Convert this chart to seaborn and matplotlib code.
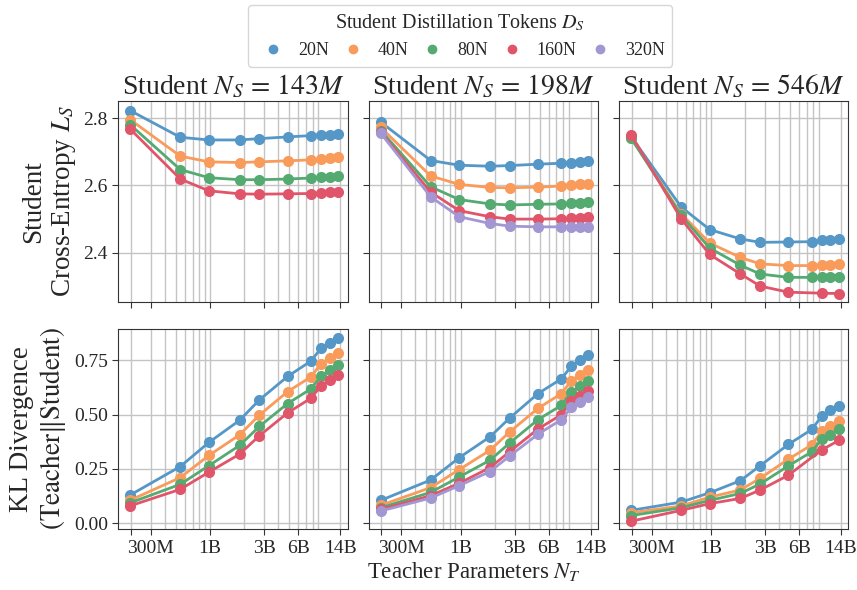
import numpy as np
import pandas as pd
import matplotlib.pyplot as plt
import seaborn as sns
from matplotlib.lines import Line2D
from matplotlib.ticker import FixedLocator, FixedFormatter, LogLocator, NullFormatter

# teacher sizes (x axis) and the series labels
teacher_params = [0.198e9, 0.546e9, 0.975e9, 1.82e9, 2.72e9, 4.82e9, 7.75e9, 9.5e9, 11.3e9, 13.4e9]
students = ["143M", "198M", "546M"]
tokens = ["20N", "40N", "80N", "160N", "320N"]
colors = ["#5597c6", "#f99b5b", "#55aa71", "#e05569", "#a397d3"]

# student cross-entropy, one dict per student size
ce_143 = {
    "20N":  [2.822, 2.743, 2.735, 2.735, 2.739, 2.744, 2.748, 2.750, 2.751, 2.753],
    "40N":  [2.795, 2.687, 2.670, 2.668, 2.670, 2.673, 2.676, 2.679, 2.681, 2.683],
    "80N":  [2.780, 2.647, 2.623, 2.617, 2.617, 2.619, 2.622, 2.625, 2.626, 2.628],
    "160N": [2.767, 2.619, 2.584, 2.575, 2.574, 2.575, 2.576, 2.578, 2.580, 2.580],
}
ce_198 = {
    "20N":  [2.788, 2.674, 2.660, 2.657, 2.659, 2.663, 2.666, 2.668, 2.670, 2.672],
    "40N":  [2.772, 2.628, 2.603, 2.594, 2.593, 2.595, 2.598, 2.601, 2.603, 2.605],
    "80N":  [2.763, 2.596, 2.558, 2.545, 2.542, 2.544, 2.545, 2.547, 2.549, 2.550],
    "160N": [2.758, 2.580, 2.525, 2.507, 2.500, 2.500, 2.501, 2.503, 2.504, 2.506],
    "320N": [2.755, 2.566, 2.507, 2.487, 2.479, 2.477, 2.477, 2.477, 2.477, 2.477],
}
ce_546 = {
    "20N":  [2.745, 2.536, 2.469, 2.441, 2.431, 2.432, 2.433, 2.438, 2.439, 2.441],
    "40N":  [2.740, 2.516, 2.429, 2.386, 2.367, 2.362, 2.362, 2.364, 2.365, 2.366],
    "80N":  [2.740, 2.511, 2.414, 2.363, 2.337, 2.327, 2.327, 2.328, 2.328, 2.329],
    "160N": [2.750, 2.501, 2.395, 2.337, 2.301, 2.283, np.nan, 2.280, np.nan, 2.279],
}

# KL divergence teacher || student
kl_143 = {
    "20N":  [0.130, 0.261, 0.372, 0.474, 0.568, 0.676, 0.747, 0.806, 0.832, 0.855],
    "40N":  [0.106, 0.210, 0.312, 0.407, 0.498, 0.606, 0.674, 0.735, 0.759, 0.784],
    "80N":  [0.094, 0.179, 0.265, 0.358, 0.446, 0.551, 0.619, 0.677, 0.705, 0.728],
    "160N": [0.080, 0.156, 0.235, 0.318, 0.403, 0.508, 0.576, 0.633, 0.659, 0.684],
}
kl_198 = {
    "20N":  [0.105, 0.199, 0.302, 0.398, 0.485, 0.597, 0.665, 0.724, 0.753, 0.775],
    "40N":  [0.082, 0.164, 0.247, 0.336, 0.421, 0.529, 0.597, 0.657, 0.685, 0.708],
    "80N":  [0.071, 0.142, 0.213, 0.290, 0.370, 0.477, 0.543, 0.605, 0.630, 0.653],
    "160N": [0.063, 0.127, 0.184, 0.256, 0.330, 0.434, 0.500, 0.562, 0.585, 0.608],
    "320N": [0.056, 0.116, 0.173, 0.238, 0.310, 0.410, 0.477, 0.534, 0.560, 0.580],
}
kl_546 = {
    "20N":  [0.059, 0.097, 0.140, 0.196, 0.265, 0.363, 0.432, 0.494, 0.520, 0.542],
    "40N":  [0.048, 0.079, 0.120, 0.153, 0.207, 0.295, 0.361, 0.423, 0.446, 0.469],
    "80N":  [0.035, 0.071, 0.105, 0.137, 0.181, 0.264, 0.329, 0.389, 0.407, 0.434],
    "160N": [0.009, 0.059, 0.090, 0.114, 0.153, 0.221, np.nan, 0.338, np.nan, 0.381],
}

rows = []
for metric, panels in [("ce", [ce_143, ce_198, ce_546]), ("kl", [kl_143, kl_198, kl_546])]:
    for student, panel in zip(students, panels):
        for tok, vals in panel.items():
            for t, v in zip(teacher_params, vals):
                rows.append({"metric": metric, "student": student, "tokens": tok, "teacher": t, "value": v})
df = pd.DataFrame(rows).dropna()

sns.set_style("ticks")
plt.rcParams["font.family"] = ["Liberation Serif", "DejaVu Serif"]
plt.rcParams["mathtext.fontset"] = "stix"

palette = dict(zip(tokens, colors))
fig, axes = plt.subplots(2, 3, figsize=(8.57, 5.9), dpi=100, sharex=True, sharey="row")
plt.subplots_adjust(left=0.138, right=0.99, top=0.829, bottom=0.103, wspace=0.092, hspace=0.134)

for r, metric in enumerate(["ce", "kl"]):
    for c, student in enumerate(students):
        ax = axes[r, c]
        sub = df[(df.metric == metric) & (df.student == student)]
        sns.lineplot(data=sub, x="teacher", y="value", hue="tokens", hue_order=tokens,
                     palette=palette, marker="o", markersize=8, markeredgewidth=0,
                     linewidth=2, ax=ax, legend=False)
        ax.set_xscale("log")
        ax.set_xlim(1.55e8, 1.63e10)
        ax.xaxis.set_major_locator(FixedLocator([2e8, 3e8, 1e9, 3e9, 6e9, 1.4e10]))
        ax.xaxis.set_major_formatter(FixedFormatter(["", "300M", "1B", "3B", "6B", "14B"]))
        ax.xaxis.set_minor_locator(LogLocator(base=10, subs=np.arange(2, 10)))
        ax.xaxis.set_minor_formatter(NullFormatter())
        ax.tick_params(axis="x", which="minor", length=0)
        ax.tick_params(axis="both", which="major", labelsize=14, length=4, color="#333333")
        ax.grid(True, which="both", color="#c4c4c4", linewidth=1)
        for s in ax.spines.values():
            s.set_color("#333333")
        ax.set_xlabel("")
        ax.set_ylabel("")
        if r == 0:
            ax.set_title(f"Student $N_S\\,=\\,{student[:-1]}M$", fontsize=20, pad=5)

axes[0, 0].set_ylim(2.255, 2.851)
axes[0, 0].set_yticks([2.4, 2.6, 2.8])
axes[1, 0].set_ylim(-0.028, 0.897)
axes[1, 0].set_yticks([0.0, 0.25, 0.5, 0.75])
axes[1, 0].set_yticklabels(["0.00", "0.25", "0.50", "0.75"])
axes[0, 0].set_ylabel("Student\nCross-Entropy $L_S$", fontsize=19.5, labelpad=4)
axes[1, 0].set_ylabel("KL Divergence\n$\\left(\\mathrm{Teacher}\\|\\mathrm{Student}\\right)$",
                      fontsize=19.5, labelpad=4)
fig.text(0.553, 0.012, "Teacher Parameters $N_T$", ha="center", va="bottom", fontsize=16.5)

handles = [Line2D([], [], marker="o", linestyle="", color=palette[t], markersize=6) for t in tokens]
fig.legend(handles, tokens, loc="upper center", bbox_to_anchor=(0.537, 1.0), ncol=5,
           title="Student Distillation Tokens $D_S$", fontsize=13, title_fontsize=14.5,
           frameon=True, handletextpad=0.4, columnspacing=0.3, borderaxespad=0.3)

fig.savefig("out.png", dpi=100)
